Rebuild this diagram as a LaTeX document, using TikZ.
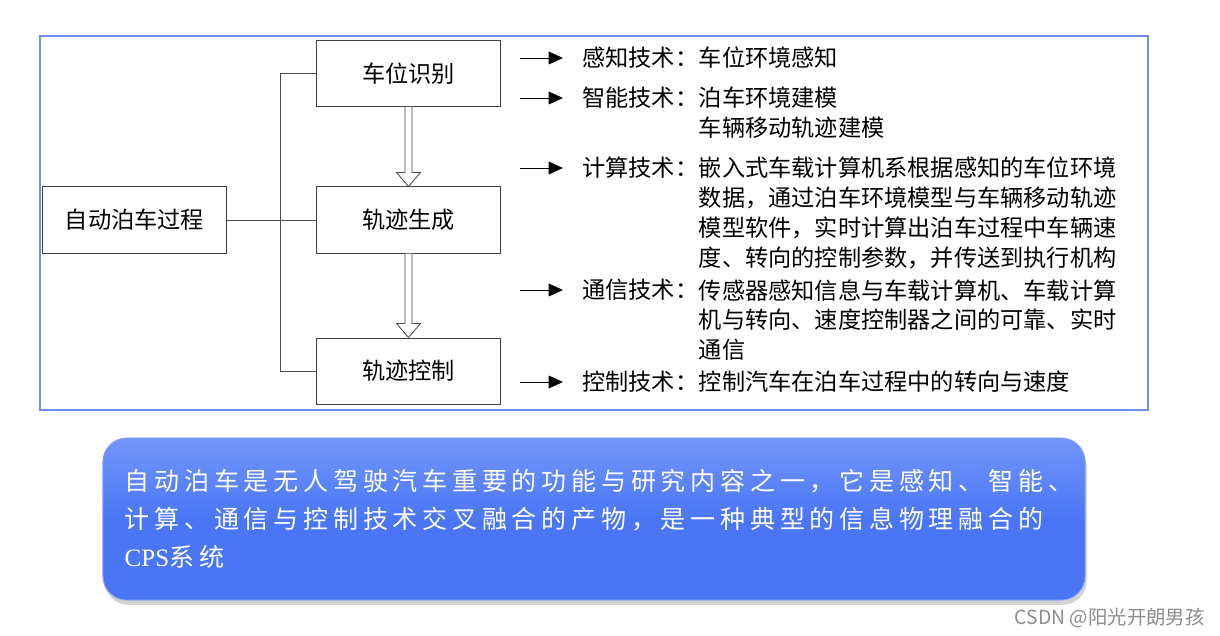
\documentclass[tikz,border=0pt]{standalone}
\usepackage{fontspec}
\setmainfont{Noto Sans CJK SC}
\newfontfamily\msgfont[LetterSpace=19]{Noto Sans CJK SC}
\newfontfamily\cpsfont{Liberation Serif}
\usetikzlibrary{arrows.meta,calc,positioning,shadows}

\definecolor{frameblue}{RGB}{112,142,238}
\definecolor{boxblue}{RGB}{74,118,246}
\definecolor{boxtop}{RGB}{125,158,250}

% hollow block arrow between two stacked boxes
\newcommand\hollowdown[2]{%
  \draw[hollow] ($(#1.south)+(-3.5,0)$) -- ($(#2.north)+(-3.5,-14)$) -- ($(#2.north)+(-12,-14)$)
    -- (#2.north) -- ($(#2.north)+(12,-14)$) -- ($(#2.north)+(3.5,-14)$) -- ($(#1.south)+(3.5,0)$);}

\begin{document}
\begin{tikzpicture}[
	x=0.025cm, y=-0.025cm,
	every node/.style={font=\fontsize{16.5pt}{21.3pt}\selectfont},
	stage/.style={draw=black!75, line width=0.7pt, minimum width=4.575cm, minimum height=1.65cm, inner sep=0pt},
	link/.style={draw=black!70, line width=0.6pt},
	hollow/.style={draw=black!70, line width=0.6pt, fill=white},
	techarrow/.style={line width=0.7pt, -{Triangle[length=0.36cm, width=0.32cm]}},
	techlabel/.style={inner sep=0pt, anchor=west},
	techbody/.style={inner sep=0pt, anchor=north west, align=left},
	msgbox/.style={rounded corners=0.6cm, draw=boxtop, line width=0.6pt, top color=boxtop!80!boxblue, bottom color=boxblue, middle color=boxblue,
		minimum width=24.55cm, minimum height=4.05cm, drop shadow={shadow xshift=0.04cm, shadow yshift=-0.12cm, opacity=0.35}},
	msgtext/.style={inner sep=0pt, anchor=west, align=left, text=white, font=\fontsize{17.8pt}{26.9pt}\msgfont},
]
\useasboundingbox (0,0) rectangle (1220,636);

% frame
\draw[frameblue, line width=0.9pt] (40,36) rectangle (1148,410);

% stages
\node[stage] (proc) at (134.5,220) {自动泊车过程};
\node[stage] (rec) at (408.5,73.5) {车位识别};
\node[stage] (gen) at (408.5,220) {轨迹生成};
\node[stage] (ctl) at (408.5,371) {轨迹控制};

\draw[link] (proc.east) -- (gen.west);
\draw[link] (rec.west) -- ++(-36,0) |- (ctl.west);
\hollowdown{rec}{gen}
\hollowdown{gen}{ctl}

% technologies
\node[techlabel] (lab1) at (582,58) {感知技术：};
\node[techbody] (body1) at (lab1.north east) {车位环境感知};
\node[techlabel] (lab2) at (582,98) {智能技术：};
\node[techbody] (body2) at (lab2.north east) {泊车环境建模\\车辆移动轨迹建模};
\node[techlabel] (lab3) at (582,168) {计算技术：};
\node[techbody] (body3) at (lab3.north east) {嵌入式车载计算机系根据感知的车位环境\\数据，通过泊车环境模型与车辆移动轨迹\\模型软件，实时计算出泊车过程中车辆速\\度、转向的控制参数，并传送到执行机构};
\node[techlabel] (lab4) at (582,290) {通信技术：};
\node[techbody] (body4) at (lab4.north east) {传感器感知信息与车载计算机、车载计算\\机与转向、速度控制器之间的可靠、实时\\通信};
\node[techlabel] (lab5) at (582,382) {控制技术：};
\node[techbody] (body5) at (lab5.north east) {控制汽车在泊车过程中的转向与速度};

\foreach \i in {1,...,5}
	\draw[techarrow] ([xshift=-1.55cm]lab\i.west) -- ([xshift=-0.475cm]lab\i.west);

% summary
\node[msgbox] (msg) at (594,519) {};
\node[msgtext] (msgtxt) at ([xshift=0.55cm]msg.west) {自动泊车是无人驾驶汽车重要的功能与研究内容之一，它是感知、智能、\\计算、通信与控制技术交叉融合的产物，是一种典型的信息物理融合的\\{\cpsfont CPS}系统};

\node[anchor=east, inner sep=0pt, text=black!45, font=\fontsize{13.8pt}{16pt}\selectfont] (mark) at (1205,618) {CSDN @阳光开朗男孩};
\end{tikzpicture}
\end{document}
